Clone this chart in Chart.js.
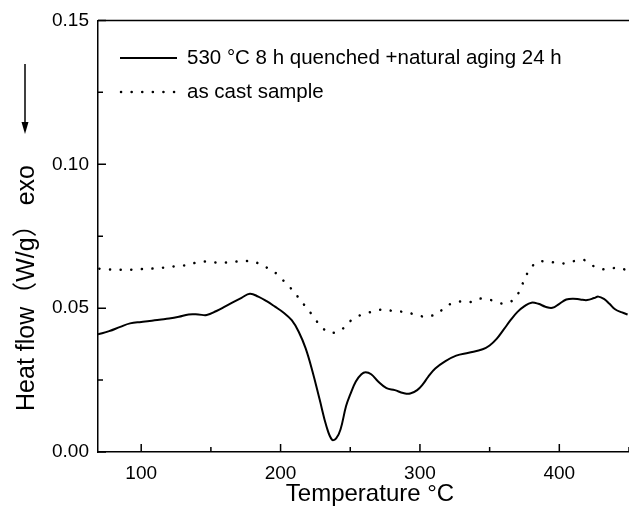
<!DOCTYPE html>
<html>
<head>
<meta charset="utf-8">
<script src="https://cdn.jsdelivr.net/npm/chart.js@4/dist/chart.umd.min.js"></script>
<style>
html,body{margin:0;padding:0;background:#fff;}
#wrap{width:629px;height:514px;position:relative;}
</style>
</head>
<body>
<div id="wrap"><canvas id="c" width="629" height="514"></canvas></div>
<script>
// ---- data ----
const tempSolid = [69,77,85,92,100,106,113,120,127,134,141,147,154,160,166,172,178,184,190,196,202,208,213,218,223,228,233,237,240,243,247,250,254,258,261,265,270,276,282,288,293,298,302,306,311,318,326,335,345,350,355,360,365,370,375,380,385,390,395,400,405,410,415,420,425,428,432,436,440,445,449];
const heatSolid = [0.0409,0.0420,0.0435,0.0447,0.0452,0.0455,0.0460,0.0464,0.0470,0.0478,0.0478,0.0476,0.0490,0.0505,0.0521,0.0536,0.0550,0.0540,0.0524,0.0505,0.0485,0.0458,0.0418,0.0360,0.0278,0.0183,0.0088,0.0042,0.0048,0.0078,0.0160,0.0200,0.0245,0.0270,0.0277,0.0270,0.0245,0.0222,0.0215,0.0205,0.0203,0.0215,0.0235,0.0262,0.0290,0.0315,0.0335,0.0345,0.0357,0.0370,0.0393,0.0425,0.0458,0.0487,0.0507,0.0519,0.0515,0.0505,0.0501,0.0515,0.0530,0.0533,0.0530,0.0528,0.0535,0.0540,0.0532,0.0515,0.0496,0.0485,0.0478];
const tempCast = [70,78,86,94,102,110,118,125,133,141,148,156,164,172,180,187,195,202,209,215,221,227,232,236,242,246,250,257,265,273,281,290,297,304,312,320,328,336,343,351,359,366,371,375,379,385,394,402,410,418,425,433,441,449];
const heatCast = [0.0637,0.0634,0.0633,0.0634,0.0636,0.0638,0.0642,0.0646,0.0650,0.0660,0.0662,0.0657,0.0660,0.0663,0.0663,0.0648,0.0628,0.0596,0.0560,0.0523,0.0487,0.0448,0.0423,0.0415,0.0418,0.0435,0.0455,0.0475,0.0487,0.0495,0.0490,0.0486,0.0477,0.0470,0.0480,0.0510,0.0523,0.0521,0.0533,0.0528,0.0516,0.0525,0.0555,0.0600,0.0637,0.0662,0.0660,0.0655,0.0663,0.0667,0.0645,0.0634,0.0640,0.0632];
const seriesNames = ["530 \u00B0C 8 h quenched +natural aging 24 h", "as cast sample"];
const xTicks = [100,200,300,400];
const xMinorTicks = [100,150,200,250,300,350,400,450];
const yTicks = [0.00,0.05,0.10,0.15];
const yMinorTicks = [0.025,0.075,0.125];
const xTitle = "Temperature \u00B0C";
const yTitle = "Heat flow\uFF08W/g\uFF09 exo";

const FONT = "'Liberation Sans', Arial, sans-serif";

const decor = {
  id: 'decor',
  afterDraw(chart) {
    const ctx = chart.ctx;
    const a = chart.chartArea;
    const xs = chart.scales.x, ys = chart.scales.y;
    ctx.save();
    ctx.strokeStyle = '#000';
    ctx.lineWidth = 1.5;
    // top border
    ctx.beginPath();
    ctx.moveTo(a.left, a.top); ctx.lineTo(a.right, a.top);
    ctx.stroke();
    // inner ticks
    ctx.beginPath();
    xMinorTicks.forEach(v => {
      const px = xs.getPixelForValue(v);
      const len = xTicks.includes(v) ? 8 : 5;
      ctx.moveTo(px, a.bottom); ctx.lineTo(px, a.bottom - len);
    });
    yTicks.forEach(v => {
      const py = ys.getPixelForValue(v);
      ctx.moveTo(a.left, py); ctx.lineTo(a.left + 8, py);
    });
    yMinorTicks.forEach(v => {
      const py = ys.getPixelForValue(v);
      ctx.moveTo(a.left, py); ctx.lineTo(a.left + 5, py);
    });
    ctx.stroke();
    // legend
    ctx.lineWidth = 2;
    ctx.beginPath(); ctx.moveTo(120, 58); ctx.lineTo(177, 58); ctx.stroke();
    ctx.setLineDash([0.1, 10.5]); ctx.lineCap = 'round'; ctx.lineWidth = 2.5;
    ctx.beginPath(); ctx.moveTo(121, 92); ctx.lineTo(177, 92); ctx.stroke();
    ctx.setLineDash([]); ctx.lineCap = 'butt';
    ctx.fillStyle = '#000';
    ctx.font = '20.5px ' + FONT;
    ctx.textBaseline = 'middle';
    ctx.textAlign = 'left';
    ctx.fillText(seriesNames[0], 187, 58);
    ctx.fillText(seriesNames[1], 187, 92);
    // x title
    ctx.font = '24px ' + FONT;
    ctx.textAlign = 'center';
    ctx.fillText(xTitle, 370, 494);
    // y title
    ctx.save();
    ctx.translate(27, 288);
    ctx.rotate(-Math.PI/2);
    ctx.font = "25px 'Liberation Sans', 'Noto Sans CJK SC', sans-serif";
    ctx.textAlign = 'center';
    ctx.fillText(yTitle, 0, 0);
    ctx.restore();
    // arrow
    ctx.lineWidth = 1.5;
    ctx.beginPath(); ctx.moveTo(25, 64); ctx.lineTo(25, 125); ctx.stroke();
    ctx.beginPath(); ctx.moveTo(25, 134); ctx.lineTo(21.5, 122); ctx.lineTo(28.5, 122); ctx.closePath(); ctx.fill();
    ctx.restore();
  }
};

new Chart(document.getElementById('c'), {
  type: 'line',
  data: {
    datasets: [
      {
        label: seriesNames[0],
        data: tempSolid.map((t,i)=>({x:t, y:heatSolid[i]})),
        borderColor: '#000', borderWidth: 2, pointRadius: 0, tension: 0.4, fill: false
      },
      {
        label: seriesNames[1],
        data: tempCast.map((t,i)=>({x:t, y:heatCast[i]})),
        borderColor: '#000', borderWidth: 2.5, borderDash: [0.1, 10.5], borderCapStyle: 'round',
        pointRadius: 0, tension: 0.3, fill: false
      }
    ]
  },
  options: {
    responsive: false,
    animation: false,
    layout: { padding: { top: 20, right: 0, left: 0, bottom: 0 } },
    plugins: { legend: { display: false }, tooltip: { enabled: false } },
    scales: {
      x: {
        type: 'linear', min: 69, max: 450,
        afterBuildTicks: s => { s.ticks = xTicks.map(v => ({value: v})); },
        afterFit: s => { s.height = 62; },
        grid: { display: false, drawTicks: false },
        border: { display: true, color: '#000', width: 1.5 },
        ticks: { color: '#000', font: { family: FONT, size: 19 }, padding: 10, maxRotation: 0 }
      },
      y: {
        type: 'linear', min: 0, max: 0.15,
        afterBuildTicks: s => { s.ticks = yTicks.map(v => ({value: v})); },
        afterFit: s => { s.width = 98; },
        grid: { display: false, drawTicks: false },
        border: { display: true, color: '#000', width: 1.5 },
        ticks: { color: '#000', font: { family: FONT, size: 19 }, padding: 9,
                 callback: v => Number(v).toFixed(2) }
      }
    }
  },
  plugins: [decor]
});
</script>
</body>
</html>
